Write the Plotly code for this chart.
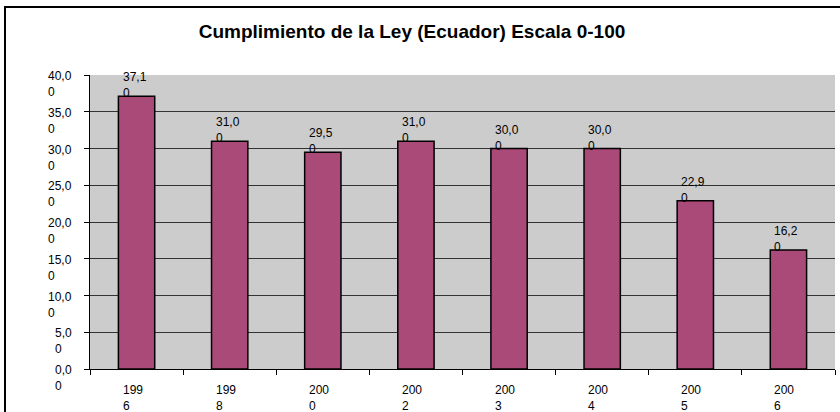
import plotly.graph_objects as go

years = ["1996", "1998", "2000", "2002", "2003", "2004", "2005", "2006"]
values = [37.1, 31.0, 29.5, 31.0, 30.0, 30.0, 22.9, 16.2]
y_ticks = [0, 5, 10, 15, 20, 25, 30, 35, 40]
title = "Cumplimiento de la Ley (Ecuador) Escala 0-100"

FONT = "Liberation Sans, Arial, sans-serif"

def fmt(v):
    s = f"{v:.2f}".replace(".", ",")
    return s[:-1] + "<br>" + s[-1]

def split_year(y):
    return y[:3] + "<br>" + y[3:]

fig = go.Figure()
fig.add_trace(go.Bar(
    x=list(range(len(years))), y=values,
    marker=dict(color="#A94A78", line=dict(color="#000000", width=1.5)),
    width=0.39, hoverinfo="skip",
))

ann = []
for i, v in enumerate(values):
    ann.append(dict(x=i, y=v, xref="x", yref="y", text=fmt(v), showarrow=False,
                    xanchor="left", yanchor="bottom", align="left", xshift=-16, yshift=-6,
                    font=dict(family=FONT, size=12, color="#000")))
for i, yr in enumerate(years):
    ann.append(dict(x=i, y=0, xref="x", yref="y", text=split_year(yr), showarrow=False,
                    xanchor="center", yanchor="top", align="left", xshift=-4, yshift=-12,
                    font=dict(family=FONT, size=12, color="#000")))
for t in y_ticks:
    ann.append(dict(x=0, y=t, xref="paper", yref="y", text=fmt(float(t)), showarrow=False,
                    xanchor="right", yanchor="top", align="left", xshift=-16, yshift=8,
                    font=dict(family=FONT, size=12, color="#000")))

fig.update_layout(
    width=840, height=412,
    margin=dict(l=90, r=5, t=75, b=43),
    paper_bgcolor="#FFFFFF",
    plot_bgcolor="#CCCCCC",
    showlegend=False,
    title=dict(text="<b>" + title + "</b>", x=412/840, xanchor="center", y=1-31/412, yanchor="middle",
               font=dict(family=FONT, size=19, color="#000")),
    annotations=ann,
    xaxis=dict(range=[-0.5, len(years)-0.5], showticklabels=False, showgrid=False,
               ticks="outside", ticklen=5, tickcolor="#000",
               tickvals=[i - 0.5 for i in range(len(years)+1)],
               showline=True, linecolor="#000", linewidth=1, zeroline=False),
    yaxis=dict(range=[0, 40], tickvals=y_ticks, showticklabels=False,
               ticks="outside", ticklen=5, tickcolor="#000",
               showgrid=True, gridcolor="#333333", gridwidth=1,
               showline=True, linecolor="#000", linewidth=1, zeroline=False),
)

post = (
    "document.body.style.margin='0';"
    "document.body.style.overflow='hidden';"
    "var d=document.createElement('div');"
    "d.style.cssText='position:absolute;left:4px;top:6px;width:2000px;height:2000px;"
    "border-left:2px solid #000;border-top:2px solid #000;pointer-events:none;z-index:10;';"
    "document.body.appendChild(d);"
)

fig.write_html("out.html", config={"displayModeBar": False}, post_script=post)
